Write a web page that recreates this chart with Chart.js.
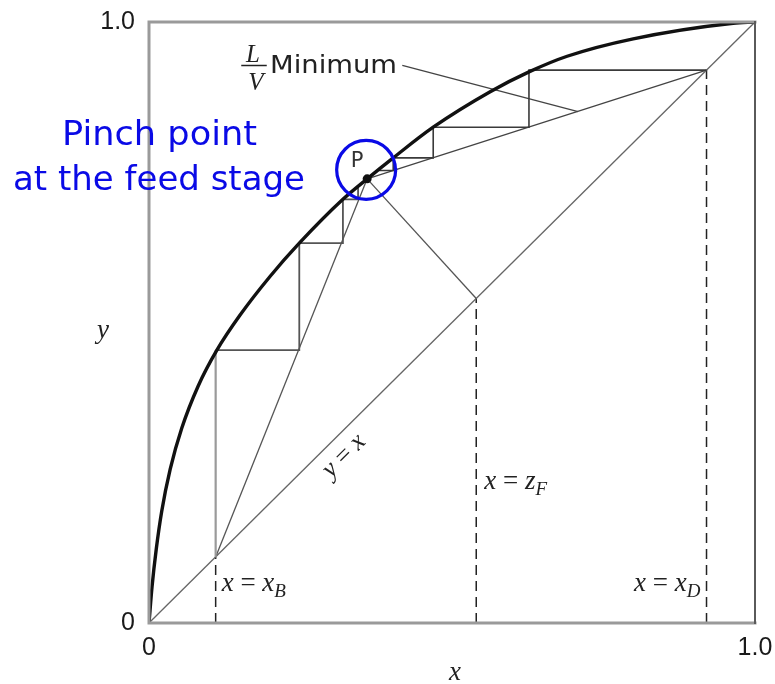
<!DOCTYPE html>
<html>
<head>
<meta charset="utf-8">
<script src="https://cdn.jsdelivr.net/npm/chart.js@4.4.1/dist/chart.umd.min.js"></script>
<style>
  html, body { margin: 0; padding: 0; background: #fff; }
  #wrap { width: 775px; height: 684px; }
</style>
</head>
<body>
<div id="wrap"><canvas id="c" width="775" height="684"></canvas></div>
<script>
// Vapour–liquid equilibrium curve (mole fractions x, y)
const eqX = [0, 0.005, 0.012, 0.021, 0.035, 0.054, 0.081, 0.112, 0.150, 0.200, 0.248, 0.320, 0.360, 0.403, 0.469, 0.563, 0.627, 0.690, 0.799, 0.964, 1];
const eqY = [0, 0.060, 0.123, 0.186, 0.256, 0.324, 0.394, 0.454, 0.512, 0.577, 0.632, 0.705, 0.739, 0.774, 0.825, 0.884, 0.917, 0.943, 0.972, 0.998, 1];

// Key compositions
const xB = 0.11;
const zF = 0.54;
const xD = 0.92;
const pinchX = 0.36;
const pinchY = 0.739;

// 45-degree line
const diagX = [0, 1];
const diagY = [0, 1];

// Operating lines at minimum reflux and the q-line
const stripX = [xB, pinchX];
const stripY = [xB, pinchY];
const rectX = [pinchX, xD];
const rectY = [pinchY, xD];
const qX = [pinchX, zF];
const qY = [pinchY, zF];

// Stage stepping, rectifying section (from the top)
const rStepX = [0.92, 0.627, 0.627, 0.469, 0.469, 0.403, 0.403, 0.380];
const rStepY = [0.92, 0.92, 0.825, 0.825, 0.774, 0.774, 0.753, 0.753];

// Stage stepping, stripping section (first riser from the bottoms composition, then the rest)
const sRiseX = [0.11, 0.11];
const sRiseY = [0.11, 0.454];
const sStepX = [0.11, 0.248, 0.248, 0.320, 0.320, 0.345, 0.345];
const sStepY = [0.454, 0.454, 0.632, 0.632, 0.705, 0.705, 0.727];

// Leader from the "L/V Minimum" label to the rectifying line
const leaderX = [0.418, 0.708];
const leaderY = [0.928, 0.851];

// Axis tick labels
const tickValues = [0, 1];
const tickLabels = ['0', '1.0'];

const zip = (xs, ys) => xs.map((x, i) => ({ x, y: ys[i] }));
const seg = (xs, ys, color, width, extra) => Object.assign({
  data: zip(xs, ys), showLine: true, borderColor: color, borderWidth: width,
  pointRadius: 0, fill: false, tension: 0
}, extra || {});

const SERIF_I = (s) => 'italic ' + s + 'px "Liberation Serif", "DejaVu Serif", serif';
const SERIF = (s) => s + 'px "Liberation Serif", "DejaVu Serif", serif';

function rich(ctx, x, y, parts, align) {
  let w = 0;
  parts.forEach(p => { ctx.font = p[1]; w += ctx.measureText(p[0]).width; });
  let cx = align === 'right' ? x - w : (align === 'center' ? x - w / 2 : x);
  parts.forEach(p => {
    ctx.font = p[1];
    ctx.fillText(p[0], cx, y + (p[2] || 0));
    cx += ctx.measureText(p[0]).width;
  });
}

function fitText(ctx, text, cx, y, width, font) {
  ctx.font = font;
  const w = ctx.measureText(text).width;
  const k = width / w;
  ctx.save();
  ctx.translate(cx, y);
  ctx.scale(k, 1);
  ctx.textAlign = 'center';
  ctx.fillText(text, 0, 0);
  ctx.restore();
}

const decor = {
  id: 'decor',
  afterDraw(chart) {
    const { ctx, chartArea: a, scales: { x: sx, y: sy } } = chart;
    ctx.save();

    // plot frame
    ctx.lineCap = 'square';
    ctx.strokeStyle = '#9a9a9a';
    ctx.lineWidth = 3;
    ctx.beginPath();
    ctx.moveTo(a.right, a.top); ctx.lineTo(a.left, a.top);
    ctx.lineTo(a.left, a.bottom); ctx.lineTo(a.right, a.bottom);
    ctx.stroke();
    ctx.strokeStyle = '#5a5a5a';
    ctx.lineWidth = 2;
    ctx.beginPath();
    ctx.moveTo(a.right, a.top); ctx.lineTo(a.right, a.bottom);
    ctx.stroke();

    ctx.textBaseline = 'alphabetic';
    ctx.textAlign = 'left';
    ctx.fillStyle = '#222';

    // axis titles
    rich(ctx, 103, 338, [['y', SERIF_I(27)]], 'center');
    rich(ctx, 455, 680, [['x', SERIF_I(27)]], 'center');

    // composition labels beside the dashed verticals
    const pB = sx.getPixelForValue(xB);
    const pF = sx.getPixelForValue(zF);
    const pD = sx.getPixelForValue(xD);
    rich(ctx, pB + 6, 591, [['x', SERIF_I(27)], [' = ', SERIF(27)], ['x', SERIF_I(27)], ['B', SERIF_I(19), 6]]);
    rich(ctx, pF + 8, 489, [['x', SERIF_I(27)], [' = ', SERIF(27)], ['z', SERIF_I(27)], ['F', SERIF_I(19), 6]]);
    rich(ctx, pD - 6, 591, [['x', SERIF_I(27)], [' = ', SERIF(27)], ['x', SERIF_I(27)], ['D', SERIF_I(19), 6]], 'right');

    // y = x along the diagonal
    ctx.save();
    ctx.translate(344, 456);
    ctx.rotate(-Math.PI / 4);
    ctx.textBaseline = 'middle';
    rich(ctx, 0, 0, [['y', SERIF_I(26)], [' = ', SERIF(26)], ['x', SERIF_I(26)]], 'center');
    ctx.restore();

    // L/V Minimum
    ctx.textAlign = 'center';
    ctx.font = SERIF_I(25);
    ctx.fillText('L', 253, 62);
    ctx.fillText('V', 256, 90);
    ctx.textAlign = 'left';
    ctx.strokeStyle = '#222';
    ctx.lineWidth = 1.5;
    ctx.beginPath();
    ctx.moveTo(242, 65.5); ctx.lineTo(266, 65.5);
    ctx.stroke();
    fitText(ctx, 'Minimum', 333.5, 73, 127, '25px "DejaVu Sans", sans-serif');

    // pinch point marker
    const px = sx.getPixelForValue(pinchX);
    const py = sy.getPixelForValue(pinchY);
    ctx.fillStyle = '#333';
    ctx.font = '21px "DejaVu Sans", sans-serif';
    ctx.textAlign = 'center';
    ctx.fillText('P', px - 10, py - 12);
    ctx.strokeStyle = '#0a0ae6';
    ctx.lineWidth = 3.2;
    ctx.beginPath();
    ctx.arc(px - 1, py - 9, 29.5, 0, Math.PI * 2);
    ctx.stroke();

    // annotation text
    ctx.fillStyle = '#0a0ae6';
    fitText(ctx, 'Pinch point', 159.5, 145, 195, '34px "DejaVu Sans", sans-serif');
    fitText(ctx, 'at the feed stage', 159, 190, 292, '34px "DejaVu Sans", sans-serif');

    ctx.restore();
  }
};

const tickOpts = (pad) => ({
  padding: pad,
  color: '#1a1a1a',
  font: { family: '"Liberation Sans", Arial, sans-serif', size: 25 },
  autoSkip: false,
  maxRotation: 0,
  callback: (v) => tickLabels[tickValues.indexOf(v)]
});

new Chart(document.getElementById('c'), {
  type: 'scatter',
  data: {
    datasets: [
      seg(eqX, eqY, '#111', 3.4, { cubicInterpolationMode: 'monotone' }),
      { data: [{ x: pinchX, y: pinchY }], showLine: false, pointRadius: 4.5, pointBackgroundColor: '#111', pointBorderColor: '#111', pointBorderWidth: 0 },
      seg(rStepX, rStepY, '#3a3a3a', 1.6),
      seg(sStepX, sStepY, '#555', 1.8),
      seg(sRiseX, sRiseY, '#9a9a9a', 2.2),
      seg(stripX, stripY, '#555', 1.3),
      seg(rectX, rectY, '#444', 1.3),
      seg(qX, qY, '#555', 1.3),
      seg(leaderX, leaderY, '#444', 1.3),
      seg(diagX, diagY, '#666', 1.3),
      seg([xB, xB], [0, xB], '#222', 1.5, { borderDash: [10, 6] }),
      seg([zF, zF], [0, zF], '#222', 1.5, { borderDash: [10, 6] }),
      seg([xD, xD], [0, xD], '#222', 1.5, { borderDash: [10, 6] })
    ]
  },
  options: {
    responsive: false,
    animation: false,
    devicePixelRatio: 1,
    layout: { padding: { left: 0, right: 20, top: 22, bottom: 0 } },
    plugins: { legend: { display: false }, tooltip: { enabled: false } },
    elements: { line: { borderCapStyle: 'butt' } },
    scales: {
      x: {
        type: 'linear', min: 0, max: 1,
        grid: { display: false, drawTicks: false },
        border: { display: false },
        ticks: tickOpts(10),
        afterBuildTicks: (s) => { s.ticks = tickValues.map(v => ({ value: v })); },
        afterFit: (s) => { s.height = 61; s.paddingLeft = 0; s.paddingRight = 0; }
      },
      y: {
        type: 'linear', min: 0, max: 1,
        grid: { display: false, drawTicks: false },
        border: { display: false },
        ticks: tickOpts(14),
        afterBuildTicks: (s) => { s.ticks = tickValues.map(v => ({ value: v })); },
        afterFit: (s) => { s.width = 149; s.paddingTop = 0; s.paddingBottom = 0; }
      }
    }
  },
  plugins: [decor]
});
</script>
</body>
</html>
